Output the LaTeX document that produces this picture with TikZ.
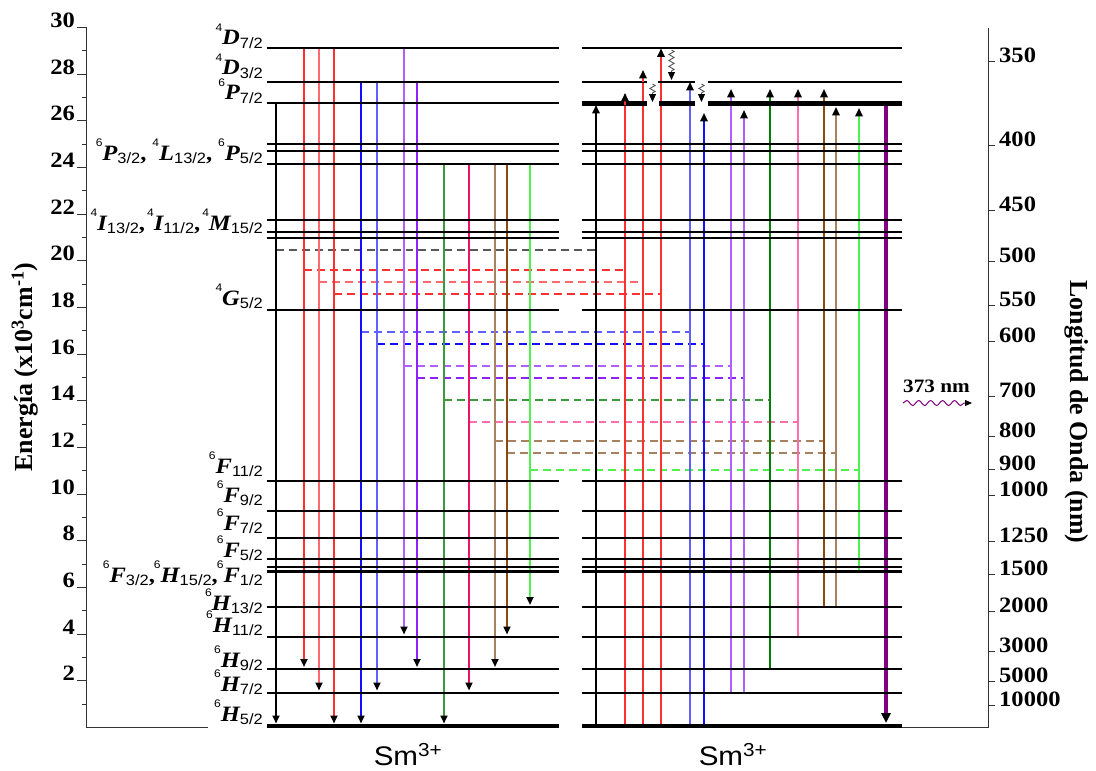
\documentclass[tikz,border=0pt]{standalone}
\usepackage{fontspec}
\setmainfont{Liberation Serif}
\setsansfont{Liberation Sans}
\newfontfamily\sfn{Liberation Sans}[FakeStretch=1.1]
\newfontfamily\srf{Liberation Serif}[FakeStretch=1.12]
\usetikzlibrary{arrows.meta,decorations.pathmorphing}

\definecolor{redA}{HTML}{FF3030}
\definecolor{redB}{HTML}{FF6A6A}
\definecolor{blueA}{HTML}{1010FF}
\definecolor{blueB}{HTML}{6060FF}
\definecolor{violA}{HTML}{B060FF}
\definecolor{violB}{HTML}{9020FF}
\definecolor{grnA}{HTML}{3C9A3C}
\definecolor{grnB}{HTML}{008000}
\definecolor{crim}{HTML}{F0106A}
\definecolor{pinkA}{HTML}{FF6EAE}
\definecolor{tanA}{HTML}{A88260}
\definecolor{brnA}{HTML}{8A4A10}
\definecolor{lgrn}{HTML}{50F050}
\definecolor{purp}{HTML}{800080}
\definecolor{wavy}{HTML}{555555}

\newcommand\lvl[3]{\raisebox{14pt}{\sfn\fontsize{11}{11}\selectfont #1}{\srf\bfseries\itshape\fontsize{22}{22}\selectfont #2}\raisebox{-3.5pt}{\sfn\fontsize{15}{15}\selectfont #3}}
\newcommand\lvc[1]{{\srf\bfseries\fontsize{22}{22}\selectfont ,}\kern#1}

\begin{document}
\begin{tikzpicture}[x=1bp,y=-1bp,
  lev/.style={line width=2.2bp,black},
  emis/.style={line width=2bp,-{Triangle[length=8pt,width=7pt,color=black]}},
  absr/.style={line width=2bp},
  ahd/.style={line width=2bp,-{Triangle[length=8.5pt,width=7.5pt,color=black]}},
  dsh/.style={line width=1.8bp,dash pattern=on 8pt off 5pt},
  axl/.style={line width=1bp,black!80},
  tk/.style={line width=1bp,black!80},
  tlab/.style={anchor=base east,inner sep=0pt,font=\srf\bfseries\fontsize{22}{22}\selectfont},
  rlab/.style={anchor=base west,inner sep=0pt,font=\srf\bfseries\fontsize{22}{22}\selectfont},
  lbl/.style={anchor=base east,inner sep=0pt},
  wav/.style={wavy,line width=0.9pt,decorate,decoration={zigzag,amplitude=2.6pt,segment length=6pt,post length=9pt},-{Triangle[length=8pt,width=7pt,color=black]}}
  ]
\fill[white] (0,0) rectangle (1096,771);
\useasboundingbox (0,0) rectangle (1096,771);

% ---------- left axis ----------
\coordinate (axTop) at (86,26.7);
\coordinate (axBot) at (86,727.5);
\coordinate (axEnd) at (208,727.5);
\draw[axl] (axTop) -- (axBot) -- (axEnd);
\foreach \v in {2,4,...,30}{
  \pgfmathsetmacro\yy{727.5-23.33*\v}
  \draw[tk] (77,\yy) -- (86,\yy);
  \node[tlab] (tl\v) at (75,\yy) {\v};
}
\foreach \v in {1,3,...,29}{
  \pgfmathsetmacro\yy{727.5-23.33*\v}
  \draw[tk] (82,\yy) -- (86,\yy);
}
\node[rotate=90,inner sep=0pt,font=\bfseries\fontsize{26}{26}\selectfont] (ylab) at (25,367) {Energía (x10\textsuperscript{3}cm\textsuperscript{-1})};

% ---------- right axis ----------
\coordinate (raTop) at (988,28);
\coordinate (raBot) at (988,727.5);
\coordinate (raEnd) at (902,727.5);
\draw[axl] (raTop) -- (raBot) -- (raEnd);
\foreach \l/\yy in {350/61.7,400/145,450/210.5,500/261.5,550/305.5,600/341.5,700/396,800/436.5,900/469.5,1000/495,1250/541.5,1500/574,2000/611,3000/651.5,5000/681.5,10000/705}{
  \draw[tk] (988,\yy) -- (995,\yy);
  \node[rlab] (rl\l) at (999,\yy+1) {\l};
}
\node[rotate=-90,inner sep=0pt,font=\bfseries\fontsize{26}{26}\selectfont] (y2lab) at (1077,412) {Longitud de Onda (nm)};

% ---------- dashed connections ----------
\foreach \n/\xa/\yy/\xb/\cc in {0/276/250/596/black!65,1/304/270/625/redA,2/319/282/643/redB,3/334/294/661/redA,4/361/332/690/blueB,5/377/344/704/blueA,6/404/366/731/violA,7/417/378/744/violB,8/444/400/770/grnA,9/469/422/798/pinkA,10/495/441/824/tanA,11/507/453/836/tanA,12/530/470/859/lgrn}{
  \coordinate (da\n) at (\xa,\yy);
  \coordinate (db\n) at (\xb,\yy);
  \draw[dsh,draw=\cc] (da\n) -- (db\n);
}

% ---------- left panel emissions ----------
\foreach \n/\x/\ya/\yb/\cc in {0/276/103/723.5/black,1/304/47.7/667/redA,2/319/47.7/690.5/redB,3/334/47.7/723.5/redA,4/361/81.7/723.5/blueA,5/377/81.7/690.5/blueB,6/404/47.7/634.5/violA,7/417/81.7/667/violB,8/444/164.3/723.5/grnA,9/469/164.3/690.5/crim,10/495/164.3/667/tanA,11/507/164.3/634.5/brnA,12/530/164.3/605/lgrn}{
  \coordinate (ea\n) at (\x,\ya);
  \coordinate (eb\n) at (\x,\yb);
  \draw[emis,draw=\cc] (ea\n) -- (eb\n);
}

% ---------- right panel absorptions (lines) ----------
\foreach \n/\x/\ya/\yb/\cc in {0/596/727/105/black,1/625/727/93/redA,2/643/727/70/redA,3/661/727/48.5/redA,4/690/727/82/blueB,5/704/727/113/blueA,6/731/693/89/violA,7/744/693/110/violA,8/770/670/89/grnB,9/798/637/89/pinkA,10/824/607/89/brnA,11/836/607/107/tanA,12/859/570/108/lgrn}{
  \coordinate (ra\n) at (\x,\ya);
  \coordinate (rb\n) at (\x,\yb);
  \coordinate (rc\n) at (\x,\yb+12);
  \draw[absr,draw=\cc] (ra\n) -- (rc\n);
}
\coordinate (pu1) at (886,103);
\coordinate (pu2) at (886,723);
\draw[line width=4bp,draw=purp,-{Triangle[length=10pt,width=9pt,color=black]}] (pu1) -- (pu2);

% ---------- levels, left panel ----------
\foreach \yy in {47.7,81.7,144.3,150.7,164.3,220,232.3,237.7,310,481,510.7,538.3,559.3,567,571.5,607,636.7,669.3,692.7}{
  \draw[lev] (266.7,\yy) -- (559,\yy);
}
\draw[line width=2bp] (266.7,103) -- (559,103);
\draw[line width=4.2bp] (266.7,725.7) -- (559,725.7);

% ---------- levels, right panel ----------
\foreach \yy in {47.7,144.3,150.7,164.3,220,232.3,237.7,310,481,510.7,538.3,559.3,567,571.5,607,636.7,669.3,692.7}{
  \draw[lev] (581.7,\yy) -- (902,\yy);
}
\draw[lev] (581.7,81.7) -- (646.7,81.7) (658.3,81.7) -- (695.3,81.7) (707.7,81.7) -- (902,81.7);
\draw[line width=5bp] (581.7,103) -- (646.7,103) (659.3,103) -- (695.3,103) (707.7,103) -- (902,103);
\draw[line width=4.2bp] (581.7,725.7) -- (902,725.7);

% ---------- right panel arrow heads on top ----------
\foreach \n/\cc in {0/black,1/redA,2/redA,3/redA,4/blueB,5/blueA,6/violA,7/violA,8/grnB,9/pinkA,10/brnA,11/tanA,12/lgrn}{
  \draw[ahd,draw=\cc] (rc\n) -- (rb\n);
}

% ---------- wavy relaxations ----------
\coordinate (w1a) at (671.5,50);  \coordinate (w1b) at (671.5,80);
\coordinate (w2a) at (652.5,84);  \coordinate (w2b) at (652.5,102);
\coordinate (w3a) at (701.5,84);  \coordinate (w3b) at (701.5,102);
\draw[wav] (w1a) -- (w1b);
\draw[wav,decoration={post length=8pt}] (w2a) -- (w2b);
\draw[wav,decoration={post length=8pt}] (w3a) -- (w3b);

% ---------- level labels ----------
\node[lbl] (lD72) at (263,45) {\lvl{4}{D}{7/2}};
\node[lbl] (lD32) at (263,75) {\lvl{4}{D}{3/2}};
\node[lbl] (lP72) at (263,100) {\lvl{6}{P}{7/2}};
\node[lbl] (lPgr) at (263,160) {\lvl{6}{P}{3/2}\lvc{6pt}\lvl{4}{L}{13/2}\lvc{6pt}\lvl{6}{P}{5/2}};
\node[lbl] (lIgr) at (263,230) {\lvl{4}{I}{13/2}\lvc{2pt}\lvl{4}{I}{11/2}\lvc{2pt}\lvl{4}{M}{15/2}};
\node[lbl] (lG52) at (263,305) {\lvl{4}{G}{5/2}};
\node[lbl] (lF11) at (263,473) {\lvl{6}{F}{11/2}};
\node[lbl] (lF9) at (263,502) {\lvl{6}{F}{9/2}};
\node[lbl] (lF7) at (263,530) {\lvl{6}{F}{7/2}};
\node[lbl] (lF5) at (263,557) {\lvl{6}{F}{5/2}};
\node[lbl] (lFgr) at (263,582) {\lvl{6}{F}{3/2}\lvc{-1pt}\lvl{6}{H}{15/2}\lvc{-1pt}\lvl{6}{F}{1/2}};
\node[lbl] (lH13) at (263,610) {\lvl{6}{H}{13/2}};
\node[lbl] (lH11) at (263,632) {\lvl{6}{H}{11/2}};
\node[lbl] (lH9) at (263,667) {\lvl{6}{H}{9/2}};
\node[lbl] (lH7) at (263,691) {\lvl{6}{H}{7/2}};
\node[lbl] (lH5) at (263,721) {\lvl{6}{H}{5/2}};

% ---------- Sm3+ ----------
\node[anchor=base,inner sep=0pt,font=\sfn\fontsize{27}{27}\selectfont] (sm1) at (408,765) {Sm\textsuperscript{3+}};
\node[anchor=base,inner sep=0pt,font=\sfn\fontsize{27}{27}\selectfont] (sm2) at (733,765) {Sm\textsuperscript{3+}};

% ---------- 373 nm ----------
\node[anchor=base west,inner sep=0pt,font=\srf\bfseries\fontsize{19}{19}\selectfont] (nm) at (903,392) {373 nm};
\coordinate (s1) at (903,403);
\coordinate (s2) at (972,403);
\draw[purp,line width=1pt,decorate,decoration={snake,amplitude=2.5pt,segment length=12pt,post length=6pt},-{Triangle[length=7pt,width=6pt,color=black]}] (s1) -- (s2);
\end{tikzpicture}
\end{document}
